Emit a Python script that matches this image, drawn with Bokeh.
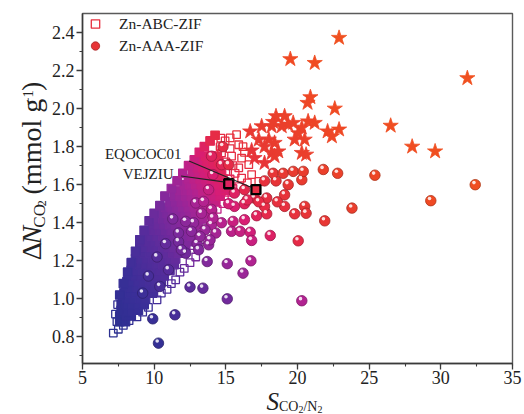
import numpy as np
import pandas as pd
from bokeh.plotting import figure
from bokeh.layouts import row, column
from bokeh.models import (ColumnDataSource, LinearColorMapper, Label, Legend, LegendItem,
                          SingleIntervalTicker, Range1d, PrintfTickFormatter)
from bokeh.transform import transform
from bokeh.embed import file_html
from bokeh.resources import INLINE
from bokeh.core.properties import value

# ---------------- data ----------------
# Zn-ABC-ZIF, dense core of the cloud (overlapping squares)
abc_core_x = [
    7.6, 8.0,
    7.6, 8.0, 8.4,
    7.7, 8.1, 8.5, 8.9,
    7.7, 8.1, 8.5, 8.9, 9.3,
    7.8, 8.2, 8.6, 9.0, 9.4,
    7.9, 8.3, 8.7, 9.1, 9.5, 9.9,
    8.0, 8.4, 8.8, 9.2, 9.6, 10.0,
    8.1, 8.5, 8.9, 9.3, 9.7, 10.1, 10.5,
    8.3, 8.7, 9.1, 9.5, 9.9, 10.3, 10.7,
    8.4, 8.8, 9.2, 9.6, 10.0, 10.4, 10.8, 11.1,
    8.6, 9.0, 9.4, 9.8, 10.2, 10.6, 11.0, 11.4,
    8.7, 9.1, 9.5, 9.9, 10.3, 10.7, 11.1, 11.5,
    8.9, 9.3, 9.7, 10.1, 10.5, 10.9, 11.3, 11.7,
    9.0, 9.4, 9.8, 10.2, 10.6, 11.0, 11.4, 11.8, 12.2,
    9.2, 9.6, 10.0, 10.4, 10.8, 11.2, 11.6, 12.0, 12.4,
    9.4, 9.8, 10.2, 10.6, 11.0, 11.4, 11.8, 12.2, 12.6,
    9.6, 10.0, 10.4, 10.8, 11.2, 11.6, 12.0, 12.4, 12.8,
    9.9, 10.3, 10.7, 11.1, 11.5, 11.9, 12.3, 12.7, 13.1,
    10.2, 10.6, 11.0, 11.4, 11.8, 12.2, 12.6, 13.0, 13.4,
    10.5, 10.9, 11.3, 11.7, 12.1, 12.5, 12.9, 13.3, 13.7,
    10.8, 11.2, 11.6, 12.0, 12.4, 12.8, 13.2, 13.6, 14.0,
    11.1, 11.5, 11.9, 12.3, 12.7, 13.1, 13.5, 13.9, 14.3,
    11.4, 11.8, 12.2, 12.6, 13.0, 13.4, 13.8, 14.2, 14.6,
    11.8, 12.2, 12.6, 13.0, 13.4, 13.8, 14.2, 14.6, 15.0,
    12.1, 12.5, 12.9, 13.3, 13.7, 14.1, 14.5, 14.9,
    12.4, 12.8, 13.2, 13.6, 14.0, 14.4, 14.8,
    12.7, 13.1, 13.5, 13.9, 14.3, 14.7,
    13.0, 13.4, 13.8, 14.2, 14.6,
    13.3, 13.7, 14.1, 14.5,
    13.6, 14.0, 14.4,
    # left edge of the cloud
    7.6, 7.85, 8.15, 8.4, 8.7, 9.0, 9.3, 9.65, 10.0, 10.4, 10.75, 11.2,
    11.6, 12.0, 12.4, 12.8, 13.15, 13.5, 13.9, 14.25,
]
abc_core_y = [
    0.88, 0.88,
    0.91, 0.91, 0.91,
    0.94, 0.94, 0.94, 0.94,
    0.97, 0.97, 0.97, 0.97, 0.97,
    1.00, 1.00, 1.00, 1.00, 1.00,
    1.03, 1.03, 1.03, 1.03, 1.03, 1.03,
    1.06, 1.06, 1.06, 1.06, 1.06, 1.06,
    1.09, 1.09, 1.09, 1.09, 1.09, 1.09, 1.09,
    1.12, 1.12, 1.12, 1.12, 1.12, 1.12, 1.12,
    1.15, 1.15, 1.15, 1.15, 1.15, 1.15, 1.15, 1.15,
    1.18, 1.18, 1.18, 1.18, 1.18, 1.18, 1.18, 1.18,
    1.21, 1.21, 1.21, 1.21, 1.21, 1.21, 1.21, 1.21,
    1.24, 1.24, 1.24, 1.24, 1.24, 1.24, 1.24, 1.24,
    1.27, 1.27, 1.27, 1.27, 1.27, 1.27, 1.27, 1.27, 1.27,
    1.30, 1.30, 1.30, 1.30, 1.30, 1.30, 1.30, 1.30, 1.30,
    1.33, 1.33, 1.33, 1.33, 1.33, 1.33, 1.33, 1.33, 1.33,
    1.36, 1.36, 1.36, 1.36, 1.36, 1.36, 1.36, 1.36, 1.36,
    1.39, 1.39, 1.39, 1.39, 1.39, 1.39, 1.39, 1.39, 1.39,
    1.42, 1.42, 1.42, 1.42, 1.42, 1.42, 1.42, 1.42, 1.42,
    1.45, 1.45, 1.45, 1.45, 1.45, 1.45, 1.45, 1.45, 1.45,
    1.48, 1.48, 1.48, 1.48, 1.48, 1.48, 1.48, 1.48, 1.48,
    1.51, 1.51, 1.51, 1.51, 1.51, 1.51, 1.51, 1.51, 1.51,
    1.54, 1.54, 1.54, 1.54, 1.54, 1.54, 1.54, 1.54, 1.54,
    1.57, 1.57, 1.57, 1.57, 1.57, 1.57, 1.57, 1.57, 1.57,
    1.60, 1.60, 1.60, 1.60, 1.60, 1.60, 1.60, 1.60,
    1.63, 1.63, 1.63, 1.63, 1.63, 1.63, 1.63,
    1.66, 1.66, 1.66, 1.66, 1.66, 1.66,
    1.69, 1.69, 1.69, 1.69, 1.69,
    1.72, 1.72, 1.72, 1.72,
    1.75, 1.75, 1.75,
    1.02, 1.08, 1.14, 1.19, 1.25, 1.31, 1.36, 1.41, 1.45, 1.49, 1.54, 1.58,
    1.62, 1.66, 1.70, 1.73, 1.77, 1.80, 1.83, 1.86,
]

# Zn-ABC-ZIF, individually visible open squares
abc_edge_x = [
    7.15, 7.5, 7.4, 7.85, 8.25, 8.8, 7.3, 7.45,
    9.2, 9.6, 10.2, 10.5, 10.9, 11.2, 11.5, 11.8, 12.1, 12.5, 12.9, 13.1,
    12.7, 13.2, 13.3, 13.5, 13.9, 14.1, 14.4, 14.8, 14.9, 15.2, 15.5,
    15.3, 15.75, 14.95, 15.3, 15.9, 14.7, 15.4, 16.1, 16.6, 14.6, 15.0, 15.5,
    15.9, 16.8, 16.1, 15.65, 16.5, 17.3, 15.9, 15.3, 15.0, 14.65, 16.2, 16.3,
]
abc_edge_y = [
    0.82, 0.84, 0.88, 0.86, 0.885, 0.905, 0.92, 0.97,
    0.93, 0.955, 0.995, 1.03, 1.05, 1.08, 1.10, 1.14, 1.16, 1.19, 1.22, 1.26,
    1.28, 1.31, 1.34, 1.38, 1.42, 1.45, 1.47, 1.50, 1.54, 1.56, 1.58,
    1.846, 1.863, 1.83, 1.79, 1.81, 1.767, 1.75, 1.74, 1.705, 1.80, 1.72, 1.70,
    1.688, 1.653, 1.635, 1.66, 1.61, 1.617, 1.59, 1.63, 1.67, 1.845, 1.80, 1.77,
]

# Zn-AAA-ZIF (spheres)
aaa_x = [
    10.3, 9.9, 11.45, 12.5, 13.4, 15.1, 13.7, 15.1, 16.2, 16.75, 20.3,
    12.2, 13.0, 13.8, 14.3, 14.0, 14.7, 15.5, 15.4, 16.0, 16.7, 16.8, 18.1,
    20.05, 16.3, 17.15, 17.85, 17.7, 19.1, 19.8, 20.5, 20.6, 21.9, 23.8, 29.3,
    15.6, 16.3, 17.0, 17.85, 18.6, 19.1, 15.6, 16.3, 17.7, 18.5, 19.35, 20.3,
    18.3, 19.0, 19.7, 20.4, 21.8, 22.8, 25.4, 32.4, 15.2, 16.5, 17.3,
    14.7, 14.1, 13.8, 12.9, 13.45, 14.0, 13.3, 14.1, 12.75, 13.55, 12.6, 13.2,
    11.7, 10.8, 11.9, 13.1, 13.9, 12.2, 11.7, 11.0, 10.4, 14.8, 14.0, 15.2,
    9.6, 9.2, 10.2, 11.3,
]
aaa_y = [
    0.767, 0.895, 0.916, 1.062, 1.056, 1.0, 1.196, 1.185, 1.135, 1.2, 0.99,
    1.24, 1.29, 1.284, 1.346, 1.39, 1.40, 1.407, 1.355, 1.355, 1.35, 1.307, 1.333,
    1.305, 1.416, 1.437, 1.447, 1.486, 1.486, 1.447, 1.486, 1.45, 1.41, 1.477, 1.516,
    1.486, 1.50, 1.53, 1.53, 1.51, 1.547, 1.556, 1.574, 1.62, 1.62, 1.60, 1.626,
    1.66, 1.66, 1.67, 1.67, 1.68, 1.66, 1.65, 1.60, 1.50, 1.52, 1.51,
    1.705, 1.653, 1.574, 1.504, 1.512, 1.47, 1.45, 1.425, 1.40, 1.363, 1.355, 1.328,
    1.30, 1.29, 1.258, 1.258, 1.31, 1.407, 1.346, 1.153, 1.065, 1.80, 1.75, 1.705,
    1.12, 1.03, 1.22, 1.42,
]

# top performers (stars)
star_x = [
    22.9, 19.5, 21.2, 31.85, 20.9, 20.7, 22.6, 26.5, 28.0, 29.6,
    22.1, 22.4, 22.9, 21.2, 20.74, 20.3, 20.05, 20.5, 19.8, 20.3, 20.6,
    18.5, 19.1, 18.2, 18.9, 19.35, 18.0, 18.4, 17.7, 18.2, 18.4,
    18.3, 17.5, 16.7, 19.7, 17.3, 18.66, 17.0, 17.7, 16.8,
]
star_y = [
    2.372, 2.26, 2.24, 2.16, 2.06, 2.03, 2.0, 1.91, 1.80, 1.775,
    1.88, 1.854, 1.89, 1.925, 1.933, 1.90, 1.87, 1.837, 1.837, 1.767, 1.758,
    1.96, 1.96, 1.907, 1.907, 1.916, 1.837, 1.82, 1.80, 1.767, 1.75,
    1.93, 1.907, 1.88, 1.925, 1.837, 1.775, 1.74, 1.714, 1.78,
]

# highlighted structures
marked_names = ["EQOCOC01", "VEJZIU"]
marked_x = [17.1, 15.2]
marked_y = [1.574, 1.605]

legend_labels = ["Zn-ABC-ZIF", "Zn-AAA-ZIF"]

# ---------------- layout constants ----------------
X0, X1, Y0, Y1 = 5, 35, 0.66, 2.5
W, H = 524, 414
FL, FR, FT, FB = 80, 512, 13, 364     # frame edges in page pixels
YLAB_W = 48                            # strip for the y title
XLAB_H = 28                            # strip for the x title
TOP_H = H - XLAB_H
SERIF = "Liberation Serif"
INK = "#222222"
BASE_FIX = 0.32                        # renderer's baseline shift, in em


def dx(px):
    return X0 + (px - FL) * (X1 - X0) / (FR - FL)


def dy(py):
    return Y0 + (FB - py) * (Y1 - Y0) / (FB - FT)


# colour scale (blue -> purple -> magenta -> red -> orange)
anchor_s = [5, 9, 13, 17, 20, 23, 26, 32, 45, 55]
anchor_c = ["#28308e", "#3a2f98", "#5a2c9c", "#8a289c", "#b02392",
            "#d81d74", "#e62a48", "#e83a30", "#f04a22", "#f05020"]
rgb = np.array([[int(c[i:i + 2], 16) for i in (1, 3, 5)] for c in anchor_c], float)
grid = np.linspace(anchor_s[0], anchor_s[-1], 256)
pal_rgb = np.stack([np.interp(grid, anchor_s, rgb[:, k]) for k in range(3)], axis=1)
palette = ["#%02x%02x%02x" % tuple(int(round(v)) for v in r) for r in pal_rgb]
dark_palette = ["#%02x%02x%02x" % tuple(int(round(v * 0.72)) for v in r) for r in pal_rgb]
cmap = LinearColorMapper(palette=palette, low=anchor_s[0], high=anchor_s[-1])
dmap = LinearColorMapper(palette=dark_palette, low=anchor_s[0], high=anchor_s[-1])


def src(xs, ys):
    df = pd.DataFrame({"x": xs, "y": ys})
    df["score"] = df["x"] * df["y"]
    df["hx"] = df["x"] - 0.09
    df["hy"] = df["y"] + 0.011
    return ColumnDataSource(df)


s_core = src(abc_core_x, abc_core_y)
s_edge = src(abc_edge_x, abc_edge_y)
s_aaa = src(aaa_x, aaa_y)
s_star = src(star_x, star_y)
s_mark = src(marked_x, marked_y)

# ---------------- main plot ----------------
p = figure(width=W - YLAB_W, height=TOP_H, x_range=Range1d(X0, X1), y_range=Range1d(Y0, Y1),
           output_backend="svg", toolbar_location=None,
           min_border_left=FL - YLAB_W, min_border_right=W - FR, min_border_top=FT,
           min_border_bottom=TOP_H - FB)
p.xgrid.visible = False
p.ygrid.visible = False
p.outline_line_color = "#5a5a5a"
p.outline_line_width = 1.4
p.background_fill_color = "white"
p.border_fill_color = "white"

p.xaxis.ticker = SingleIntervalTicker(interval=5, num_minor_ticks=2)
p.yaxis.ticker = SingleIntervalTicker(interval=0.2, num_minor_ticks=2)
p.xaxis.formatter = PrintfTickFormatter(format="%d")
p.yaxis.formatter = PrintfTickFormatter(format="%.1f")
for ax in (p.xaxis, p.yaxis):
    ax.axis_line_color = "#3a3a3a"
    ax.axis_line_width = 1.5
    ax.major_tick_line_color = "#3a3a3a"
    ax.minor_tick_line_color = "#3a3a3a"
    ax.major_tick_line_width = 1.3
    ax.minor_tick_line_width = 1.1
    ax.major_tick_in = 0
    ax.major_tick_out = 6
    ax.minor_tick_in = 0
    ax.minor_tick_out = 3
    ax.major_label_text_font = SERIF
    ax.major_label_text_font_size = "18px"
    ax.major_label_text_color = INK
p.yaxis.major_label_standoff = 2
p.xaxis.major_label_standoff = 1

# Zn-ABC-ZIF: dense core + visible open squares
p.scatter("x", "y", source=s_core, marker="square", size=8.5,
          fill_color=transform("score", cmap), line_color=transform("score", cmap), line_width=1.2)
r_sq = p.scatter("x", "y", source=s_edge, marker="square", size=7.5,
                 fill_color=None, line_color=transform("score", cmap), line_width=1.3)

# Zn-AAA-ZIF spheres
r_ci = p.scatter("x", "y", source=s_aaa, marker="circle", size=10.5,
                 fill_color=transform("score", cmap), line_color=transform("score", dmap),
                 line_width=0.8)
p.scatter("hx", "hy", source=s_aaa, marker="circle", size=3.6,
          fill_color="white", fill_alpha=0.85, line_color=None)

# stars
p.scatter("x", "y", source=s_star, marker="star", size=16,
          fill_color=transform("score", cmap), line_color=transform("score", cmap), line_width=0.8)

# highlighted structures
p.scatter("x", "y", source=s_mark, marker="square", size=9,
          fill_color=transform("score", cmap), line_color="black", line_width=2.3)
p.segment(x0=[dx(187), dx(179)], y0=[dy(161), dy(176)],
          x1=[m - 0.35 for m in marked_x], y1=[marked_y[0] + 0.012, marked_y[1] + 0.01],
          line_color=INK, line_width=1.1)
p.text(x=[dx(141), dx(146)], y=[dy(153.5), dy(173.5)], text=marked_names,
       text_font=value(SERIF), text_font_size="15px", text_color=INK,
       text_align="center", text_baseline="middle")

# legend (representative red members of each series)
legend = Legend(items=[LegendItem(label=legend_labels[0], renderers=[r_sq], index=31),
                       LegendItem(label=legend_labels[1], renderers=[r_ci], index=47)],
                location="top_left", margin=0, padding=3, spacing=1,
                glyph_width=26, glyph_height=21, label_height=18, label_standoff=11,
                label_text_font=SERIF, label_text_font_size="15.5px",
                label_text_color=INK, border_line_color=None, background_fill_alpha=0)
p.add_layout(legend)

# ---------------- axis titles (with sub/superscripts) ----------------
CW = {"Δ": 0.612, "N": 0.722, "Ni": 0.667, "C": 0.667, "O": 0.722, "2": 0.5, "/": 0.278,
      "(": 0.333, ")": 0.333, "m": 0.778, "o": 0.5, "l": 0.278, " ": 0.25, "g": 0.5,
      "-": 0.333, "−": 0.564, "1": 0.5, "S": 0.5}


def tw(text, size, style):
    w = 0.0
    for ch in text:
        key = "Ni" if (ch == "N" and style == "italic") else ch
        w += CW.get(key, 0.5)
    return w * size


def strip(width, height, xr, yr):
    f = figure(width=width, height=height, x_range=Range1d(*xr), y_range=Range1d(*yr),
               x_axis_type=None, y_axis_type=None, output_backend="svg",
               toolbar_location=None, min_border=0, min_border_left=0, min_border_right=0,
               min_border_top=0, min_border_bottom=0)
    f.outline_line_color = None
    f.xgrid.visible = False
    f.ygrid.visible = False
    f.background_fill_color = "white"
    f.border_fill_color = "white"
    return f


# y title strip: data units == page pixels (y grows downward)
# (text, font size, style, baseline x, extra gap before the piece)
ystrip = strip(YLAB_W, TOP_H, (0, YLAB_W), (TOP_H, 0))
ylab = [("Δ", 28, "normal", 40, 0), ("N", 28, "italic", 40, 0), ("CO", 17, "normal", 44, 0),
        ("2", 12, "normal", 45.5, 0), ("(mmol g", 28, "normal", 40, 7),
        ("−1", 15, "normal", 32, 2), (")", 28, "normal", 40, 0.5)]
cur = 272.0
for t, sz, st, base, gap in ylab:
    cur -= gap
    ystrip.add_layout(Label(x=base - BASE_FIX * sz, y=cur, text=t, angle=np.pi / 2,
                            text_font=SERIF, text_font_size=f"{sz}px", text_font_style=st,
                            text_color=INK, text_align="left", text_baseline="alphabetic"))
    cur -= tw(t, sz, st)

# x title strip: data units == page pixels
xstrip = strip(W, XLAB_H, (0, W), (H, TOP_H))
xlab = [("S", 25, "italic", 408.5), ("CO", 14, "normal", 410.5), ("2", 10, "normal", 411.8),
        ("/N", 14, "normal", 410.5), ("2", 10, "normal", 411.8)]
cur = 266.0
for t, sz, st, base in xlab:
    xstrip.add_layout(Label(x=cur, y=base - BASE_FIX * sz, text=t,
                            text_font=SERIF, text_font_size=f"{sz}px", text_font_style=st,
                            text_color=INK, text_align="left", text_baseline="alphabetic"))
    cur += tw(t, sz, st)

layout = column(row(ystrip, p, spacing=0), xstrip, spacing=0)
open("out.html", "w").write(file_html(layout, INLINE))
